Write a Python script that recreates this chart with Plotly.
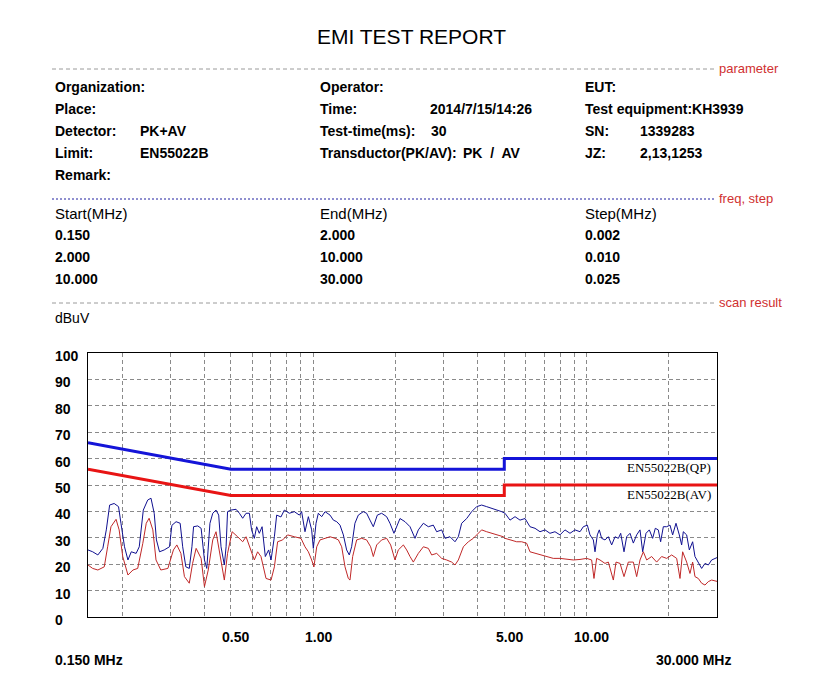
import math

import plotly.graph_objects as go

# ---- data ----
header_left = ["Organization:", "Place:", "Detector:", "Limit:", "Remark:"]
header_left_val = ["", "", "PK+AV", "EN55022B", ""]
header_mid = ["Operator:", "Time:", "Test-time(ms):", "Transductor(PK/AV):"]
header_mid_val = ["", "2014/7/15/14:26", "30", "PK  /  AV"]
header_right = ["EUT:", "Test equipment:KH3939", "SN:", "JZ:"]
header_right_val = ["", "", "1339283", "2,13,1253"]

scan_start = ["0.150", "2.000", "10.000"]
scan_end = ["2.000", "10.000", "30.000"]
scan_step = ["0.002", "0.010", "0.025"]

x_ticks = [0.5, 1.0, 5.0, 10.0]
x_tick_text = ["0.50", "1.00", "5.00", "10.00"]
y_ticks = [0, 10, 20, 30, 40, 50, 60, 70, 80, 90, 100]
grid_freqs = [0.2, 0.3, 0.4, 0.5, 0.6, 0.7, 0.8, 0.9,
              1, 2, 3, 4, 5, 6, 7, 8, 9, 10, 20]

qp_freq = [0.15, 0.5, 5.0, 5.0, 30.0]
qp_limit = [66, 56, 56, 60, 60]
av_freq = [0.15, 0.5, 5.0, 5.0, 30.0]
av_limit = [56, 46, 46, 50, 50]

pk_freq = [
    0.150, 0.156, 0.163, 0.170, 0.175, 0.180, 0.187, 0.194, 0.198, 0.204,
    0.210, 0.216, 0.225, 0.231, 0.239, 0.248, 0.255, 0.262, 0.267, 0.274,
    0.285, 0.298, 0.304, 0.315, 0.326, 0.333, 0.342, 0.352, 0.360, 0.365,
    0.378, 0.389, 0.400, 0.408, 0.419, 0.429, 0.441, 0.451, 0.460, 0.473,
    0.480, 0.486, 0.500, 0.522, 0.537, 0.552, 0.568, 0.584, 0.595, 0.609,
    0.621, 0.635, 0.650, 0.668, 0.687, 0.701, 0.721, 0.735, 0.762, 0.784,
    0.818, 0.853, 0.890, 0.907, 0.933, 0.960, 0.987, 1.001, 1.024, 1.044,
    1.074, 1.105, 1.152, 1.185, 1.219, 1.253, 1.289, 1.325, 1.355, 1.382,
    1.421, 1.462, 1.525, 1.568, 1.613, 1.659, 1.716, 1.780, 1.856, 1.909,
    1.974, 2.019, 2.077, 2.167, 2.260, 2.357, 2.424, 2.529, 2.637, 2.750,
    2.829, 2.951, 3.035, 3.165, 3.301, 3.395, 3.492, 3.643, 3.798, 3.962,
    4.132, 4.310, 4.495, 4.689, 4.891, 5.030, 5.247, 5.473, 5.708, 5.954,
    6.208, 6.476, 6.755, 7.046, 7.346, 7.662, 7.992, 8.337, 8.696, 9.071,
    9.461, 9.731, 10.063, 10.292, 10.585, 10.735, 10.947, 11.132, 11.353, 11.677,
    12.012, 12.355, 12.707, 13.070, 13.330, 13.707, 14.016, 14.416, 14.826, 15.249,
    15.683, 16.040, 16.497, 16.966, 17.447, 17.842, 18.299, 18.662, 19.090, 19.634,
    20.194, 20.648, 21.237, 21.842, 22.274, 22.588, 23.232, 23.760, 24.433, 24.920,
    25.630, 26.361, 27.112, 27.885, 28.679, 29.750, 30.000,
]
pk_level = [
    25.4, 24.7, 23.5, 26.0, 33.0, 42.4, 43.0, 41.8, 35.5, 26.6,
    21.6, 24.7, 24.1, 26.6, 40.5, 44.3, 45.0, 39.3, 29.2, 24.7,
    25.4, 26.6, 34.7, 36.1, 35.5, 26.6, 19.0, 18.4, 26.6, 34.2,
    34.5, 33.6, 21.6, 18.4, 35.5, 39.3, 40.5, 38.6, 26.6, 19.7,
    26.6, 39.9, 40.5, 40.8, 39.3, 37.4, 39.3, 39.3, 33.0, 29.8,
    34.2, 31.7, 34.2, 22.9, 25.4, 21.6, 30.4, 38.6, 37.9, 40.5,
    39.3, 39.9, 38.6, 39.9, 32.3, 38.0, 33.0, 26.0, 35.5, 39.3,
    38.0, 39.9, 38.6, 36.7, 36.1, 34.8, 31.1, 25.4, 23.5, 26.6,
    35.5, 38.6, 39.9, 39.3, 36.7, 34.2, 38.6, 39.3, 38.0, 35.5,
    31.7, 34.2, 37.3, 36.1, 34.2, 29.8, 33.0, 35.5, 34.2, 34.8,
    32.3, 33.0, 29.8, 30.4, 28.5, 30.4, 35.5, 37.3, 39.9, 41.8,
    42.4, 41.8, 41.2, 40.5, 39.9, 39.3, 36.7, 38.0, 36.7, 37.3,
    34.2, 33.6, 32.3, 33.0, 31.7, 32.3, 31.1, 33.0, 31.7, 33.0,
    32.3, 34.2, 34.8, 31.1, 29.2, 24.7, 31.1, 33.0, 29.8, 29.2,
    30.4, 27.3, 30.4, 29.8, 31.7, 24.7, 30.4, 31.7, 28.0, 31.1,
    33.0, 24.7, 31.7, 33.0, 29.8, 33.6, 33.0, 28.5, 34.2, 34.2,
    34.8, 31.1, 35.5, 31.1, 27.3, 32.3, 31.1, 25.4, 28.5, 22.9,
    20.8, 18.4, 20.3, 19.7, 21.6, 22.2, 22.5,
]

av_data_freq = [
    0.150, 0.156, 0.163, 0.172, 0.177, 0.182, 0.190, 0.195, 0.201, 0.210,
    0.219, 0.228, 0.238, 0.245, 0.251, 0.259, 0.266, 0.277, 0.294, 0.308,
    0.317, 0.328, 0.338, 0.352, 0.362, 0.373, 0.389, 0.400, 0.413, 0.429,
    0.441, 0.460, 0.473, 0.486, 0.505, 0.529, 0.552, 0.568, 0.587, 0.609,
    0.626, 0.644, 0.672, 0.701, 0.721, 0.741, 0.773, 0.806, 0.853, 0.902,
    0.933, 0.960, 0.987, 1.006, 1.030, 1.059, 1.105, 1.152, 1.202, 1.236,
    1.271, 1.307, 1.344, 1.363, 1.394, 1.442, 1.504, 1.568, 1.622, 1.659,
    1.707, 1.780, 1.856, 1.920, 1.991, 2.048, 2.137, 2.197, 2.260, 2.324,
    2.424, 2.529, 2.637, 2.712, 2.829, 2.951, 3.077, 3.210, 3.301, 3.395,
    3.542, 3.694, 3.852, 4.018, 4.132, 4.310, 4.495, 4.689, 4.960, 5.030,
    5.247, 5.550, 5.788, 6.038, 6.208, 6.476, 6.755, 7.143, 7.555, 7.992,
    8.454, 8.944, 9.461, 10.006, 10.437, 10.643, 10.886, 11.195, 11.677, 12.012,
    12.529, 12.815, 13.256, 13.707, 14.215, 14.826, 15.249, 15.683, 16.130, 16.590,
    17.301, 18.045, 18.819, 19.634, 20.477, 21.357, 21.965, 22.462, 23.232, 23.894,
    24.433, 24.920, 25.630, 26.361, 27.112, 27.885, 28.679, 29.750, 30.000,
]
av_level = [
    19.7, 18.4, 17.8, 19.0, 26.6, 34.2, 37.0, 33.0, 22.9, 15.9,
    17.8, 18.4, 27.9, 35.5, 37.4, 33.0, 21.6, 17.8, 18.4, 25.4,
    27.3, 24.1, 15.3, 12.8, 20.3, 26.0, 22.2, 11.5, 17.8, 29.2,
    32.3, 20.3, 14.0, 24.1, 32.3, 30.4, 28.5, 30.4, 26.6, 21.6,
    24.7, 22.9, 14.6, 14.0, 19.0, 28.5, 29.2, 31.1, 30.4, 29.8,
    26.6, 24.7, 21.6, 19.0, 26.6, 29.2, 29.8, 30.4, 29.8, 29.2,
    26.6, 19.0, 14.6, 14.0, 22.9, 29.2, 29.8, 29.2, 26.6, 22.9,
    27.3, 29.2, 29.8, 27.3, 21.6, 25.4, 27.3, 25.4, 22.9, 20.8,
    24.1, 26.6, 26.0, 23.5, 24.1, 22.2, 21.6, 20.8, 19.7, 21.6,
    26.6, 28.5, 29.8, 31.7, 33.0, 32.3, 31.7, 31.1, 30.4, 29.8,
    29.2, 28.5, 28.5, 27.9, 24.7, 24.1, 23.5, 22.9, 22.2, 22.2,
    22.0, 21.6, 21.8, 22.2, 21.6, 14.6, 22.2, 21.6, 20.3, 20.8,
    14.0, 20.8, 20.3, 15.3, 20.8, 20.8, 15.3, 21.6, 24.7, 21.6,
    22.9, 20.8, 22.9, 22.2, 23.5, 22.2, 14.6, 24.7, 20.8, 16.5,
    20.8, 15.3, 14.6, 12.8, 12.1, 13.4, 14.0, 13.4, 13.5,
]

# ---- page geometry (pixels on the page; the body margin shifts the div by 8px) ----
OFF = 8
W, H = 827 - OFF, 678 - OFF
L, R = 88 - OFF, 827 - 717
T, B = 353 - OFF, 678 - 617
PW = W - L - R
PH = H - T - B

SANS = "Liberation Sans, Arial, sans-serif"
SERIF = "Liberation Serif, Times New Roman, serif"


def px(x):
    return (x - OFF - L) / PW


def py(y):
    return (H - B - (y - OFF)) / PH


fig = go.Figure()

fig.add_trace(go.Scatter(x=pk_freq, y=pk_level, mode="lines",
                         line=dict(color="#101090", width=1), hoverinfo="skip"))
fig.add_trace(go.Scatter(x=av_data_freq, y=av_level, mode="lines",
                         line=dict(color="#c02828", width=1), hoverinfo="skip"))
fig.add_trace(go.Scatter(x=qp_freq, y=qp_limit, mode="lines",
                         line=dict(color="#1414d8", width=3), hoverinfo="skip"))
fig.add_trace(go.Scatter(x=av_freq, y=av_limit, mode="lines",
                         line=dict(color="#e81414", width=3), hoverinfo="skip"))


def note(text, x, y, size=14, color="#000000", family=SANS, anchor="left"):
    # annotations carry ~2px of padding; pull left-anchored text back onto its column
    shift = -2 if anchor == "left" else 0
    fig.add_annotation(text=text, xref="paper", yref="paper", x=px(x), y=py(y),
                       xshift=shift, xanchor=anchor, yanchor="middle", showarrow=False,
                       font=dict(family=family, size=size, color=color))


# title
note("EMI TEST REPORT", 411, 36, size=21, anchor="center")

# separators with their red labels
for y, label, color, dash in [(69, "parameter", "#9a9a9a", "4px,3px"),
                              (199, "freq, step", "#2020a0", "2px,2px"),
                              (303, "scan result", "#9a9a9a", "4px,3px")]:
    fig.add_shape(type="line", xref="paper", yref="paper",
                  x0=px(52), x1=px(714), y0=py(y), y1=py(y),
                  line=dict(color=color, width=1, dash=dash))
    note(label, 719, y - 1, size=13, color="#d03030")

# header block
for i, (k, v) in enumerate(zip(header_left, header_left_val)):
    note("<b>%s</b>" % k, 55, 87 + 22 * i)
    if v:
        note("<b>%s</b>" % v, 140, 87 + 22 * i)
for i, (k, v) in enumerate(zip(header_mid, header_mid_val)):
    note("<b>%s</b>" % k, 320, 87 + 22 * i)
    if v:
        note("<b>%s</b>" % v, [0, 430, 431, 463][i], 87 + 22 * i)
for i, (k, v) in enumerate(zip(header_right, header_right_val)):
    note("<b>%s</b>" % k, 585, 87 + 22 * i)
    if v:
        note("<b>%s</b>" % v, 640, 87 + 22 * i)

# scan ranges
note("Start(MHz)", 55, 213, size=15)
note("End(MHz)", 320, 213, size=15)
note("Step(MHz)", 585, 213, size=15)
for i in range(3):
    note("<b>%s</b>" % scan_start[i], 55, 235 + 22 * i, size=14)
    note("<b>%s</b>" % scan_end[i], 320, 235 + 22 * i, size=14)
    note("<b>%s</b>" % scan_step[i], 585, 235 + 22 * i, size=14)

note("dBuV", 55, 318, size=14)

# axis labels, left aligned as in the report
for v in y_ticks:
    fig.add_annotation(text="<b>%d</b>" % v, xref="paper", yref="y",
                       x=px(53), y=v, yshift=-3, xanchor="left", yanchor="middle",
                       showarrow=False, font=dict(family=SANS, size=14, color="#000"))
for v, t in zip(x_ticks, x_tick_text):
    fig.add_annotation(text="<b>%s</b>" % t, xref="x", yref="paper",
                       x=math.log10(v), y=py(637), xshift=5, xanchor="center",
                       yanchor="middle", showarrow=False,
                       font=dict(family=SANS, size=14, color="#000"))
note("<b>0.150 MHz</b>", 55, 660)
note("<b>30.000 MHz</b>", 656, 660)

# limit names
fig.add_annotation(text="EN55022B(QP)", xref="paper", yref="y", x=px(713), y=60,
                   yshift=-9, xanchor="right", yanchor="middle", showarrow=False,
                   font=dict(family=SERIF, size=13, color="#000"))
fig.add_annotation(text="EN55022B(AV)", xref="paper", yref="y", x=px(713), y=50,
                   yshift=-9, xanchor="right", yanchor="middle", showarrow=False,
                   font=dict(family=SERIF, size=13, color="#000"))

fig.update_layout(
    width=W, height=H, autosize=False,
    margin=dict(l=L, r=R, t=T, b=B, pad=0),
    paper_bgcolor="white", plot_bgcolor="white",
    showlegend=False,
    xaxis=dict(type="log", range=[math.log10(0.15), math.log10(30)],
               tickvals=grid_freqs, showticklabels=False, ticks="",
               showgrid=True, gridcolor="#8a8a8a", griddash="4px,3px", gridwidth=1,
               showline=True, linecolor="black", linewidth=1, mirror=True,
               zeroline=False),
    yaxis=dict(range=[0, 100], tickvals=y_ticks[1:-1], showticklabels=False, ticks="",
               showgrid=True, gridcolor="#8a8a8a", griddash="4px,3px", gridwidth=1,
               showline=True, linecolor="black", linewidth=1, mirror=True,
               zeroline=False),
)

fig.write_html("out.html")
